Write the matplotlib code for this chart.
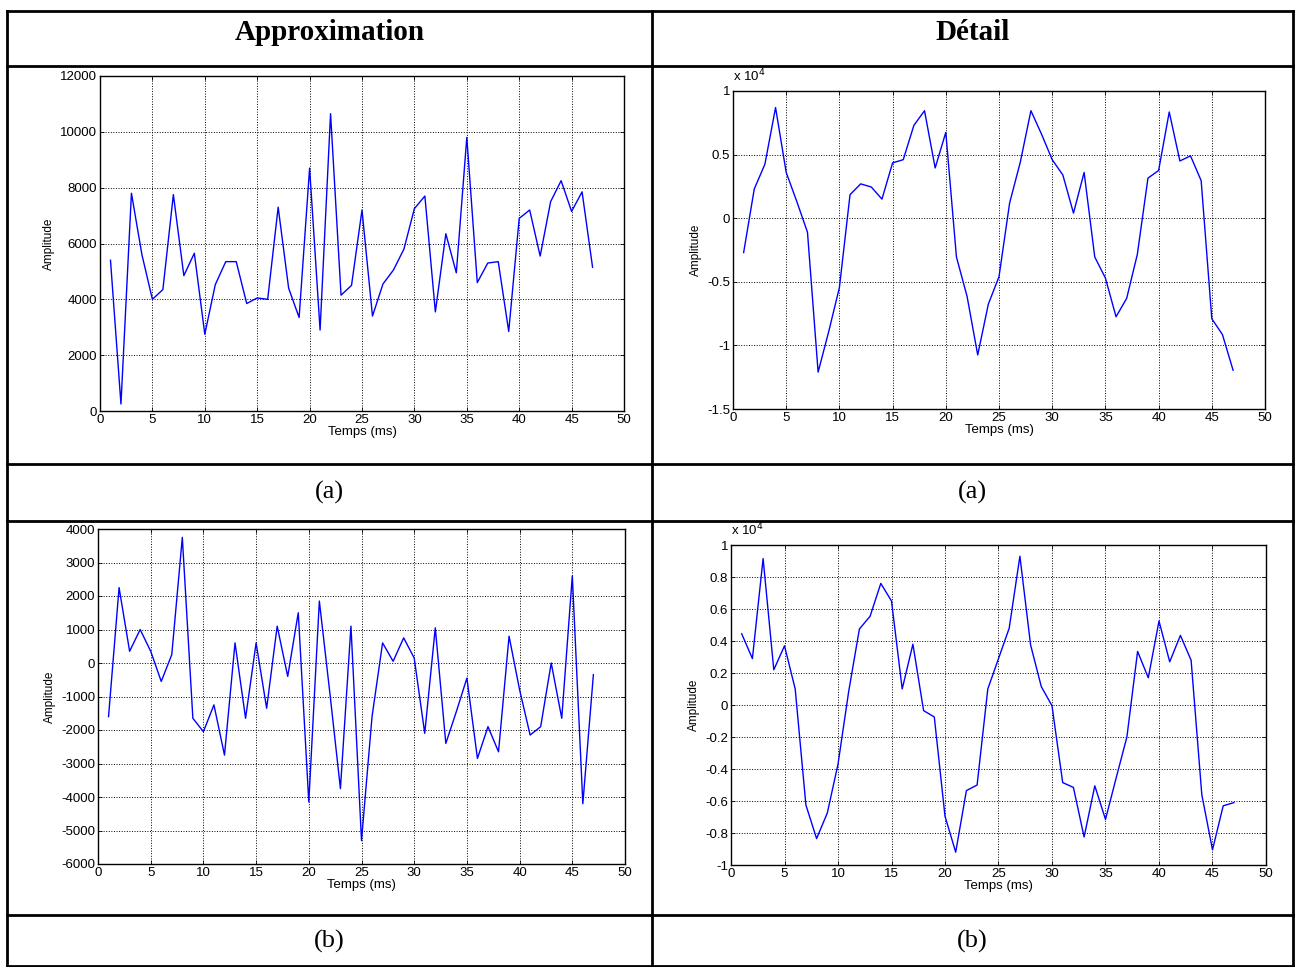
import numpy as np
import matplotlib
matplotlib.use('Agg')
import matplotlib.pyplot as plt
from matplotlib.lines import Line2D
from matplotlib.ticker import FuncFormatter

plt.rcParams['axes.unicode_minus'] = False
plt.rcParams['font.family'] = ['Liberation Sans', 'DejaVu Sans']

W, H = 1295, 967

# time axis (ms)
t = np.arange(1, 48)

# approximation (a)
approx_a = [5400, 250, 7800, 5600, 4000, 4350, 7750, 4850, 5650, 2750,
            4525, 5350, 5350, 3850, 4050, 4000, 7300, 4400, 3350, 8700,
            2900, 10650, 4150, 4500, 7200, 3400, 4550, 5050, 5800, 7250,
            7700, 3550, 6350, 4950, 9800, 4600, 5300, 5350, 2850, 6900,
            7200, 5550, 7500, 8250, 7150, 7850, 5150]

# detail (a)
detail_a = [-2700, 2300, 4250, 8700, 3600, 1300, -1100, -12100, -8900, -5450,
            1850, 2700, 2450, 1500, 4350, 4600, 7300, 8450, 3950, 6750,
            -3050, -6150, -10750, -6750, -4600, 1200, 4400, 8450, 6600, 4600,
            3400, 400, 3600, -3050, -4700, -7750, -6300, -2850, 3150, 3750,
            8350, 4500, 4900, 2950, -7900, -9150, -11950]

# approximation (b)
approx_b = [-1600, 2250, 350, 1000, 350, -550, 250, 3750, -1650, -2050,
            -1250, -2750, 600, -1650, 600, -1350, 1100, -400, 1500, -4150,
            1850, -900, -3750, 1100, -5300, -1600, 600, 50, 750, 150,
            -2100, 1050, -2400, -1450, -450, -2850, -1900, -2650, 800, -800,
            -2150, -1900, 0, -1650, 2600, -4200, -350]

# detail (b)
detail_b = [4450, 2900, 9150, 2200, 3700, 1000, -6250, -8350, -6750, -3700,
            850, 4750, 5550, 7600, 6500, 1000, 3800, -350, -750, -6950,
            -9200, -5350, -5000, 1000, 2900, 4800, 9300, 3750, 1150, -50,
            -4850, -5150, -8250, -5050, -7150, -4550, -2000, 3350, 1700, 5250,
            2700, 4350, 2800, -5600, -9050, -6300, -6100]

col_titles = ['Approximation', 'Détail']
row_labels = ['(a)', '(b)']


def rect(l, t_, r, b):
    # pixel box -> figure fraction [left, bottom, width, height]
    return [l / W, 1 - b / H, (r - l) / W, (b - t_) / H]


fmt = FuncFormatter(lambda v, p: '%g' % (round(v, 6) + 0.0))


def style(ax, ylim, yticks):
    ax.set_xlim(0, 50)
    ax.set_xticks(np.arange(0, 51, 5))
    ax.set_ylim(*ylim)
    ax.set_yticks(yticks)
    ax.yaxis.set_major_formatter(fmt)
    ax.grid(True, color='black', linestyle=':', linewidth=0.7)
    ax.tick_params(direction='in', top=True, right=True, labelsize=9.5,
                   length=3, width=0.6, pad=2)
    for s in ax.spines.values():
        s.set_linewidth(1.0)
    ax.set_xlabel('Temps (ms)', fontsize=9.5, labelpad=0)
    ax.set_ylabel('Amplitude', fontsize=8.5, labelpad=4)


fig = plt.figure(figsize=(W / 100, H / 100), dpi=100)

ax1 = fig.add_axes(rect(100, 76, 624, 411))
ax1.plot(t, approx_a, color='blue', linewidth=1.0)
style(ax1, (0, 12000), np.arange(0, 12001, 2000))

ax2 = fig.add_axes(rect(733, 91, 1265, 409))
ax2.plot(t, np.array(detail_a) / 1e4, color='blue', linewidth=1.0)
style(ax2, (-1.5, 1), np.arange(-1.5, 1.01, 0.5))
ax2.text(0, 1.02, 'x 10$^4$', transform=ax2.transAxes, fontsize=9.5,
         ha='left', va='bottom')

ax3 = fig.add_axes(rect(98, 529, 625, 864))
ax3.plot(t, approx_b, color='blue', linewidth=1.0)
style(ax3, (-6000, 4000), np.arange(-6000, 4001, 1000))

ax4 = fig.add_axes(rect(731, 545, 1266, 865))
ax4.plot(t, np.array(detail_b) / 1e4, color='blue', linewidth=1.0)
style(ax4, (-1, 1), np.arange(-1, 1.01, 0.2))
ax4.text(0, 1.02, 'x 10$^4$', transform=ax4.transAxes, fontsize=9.5,
         ha='left', va='bottom')

# table frame
lw = 2.0
x_left, x_mid, x_right = 7, 652, 1293
rows_y = [11, 66, 464, 521, 915, 966]
for y in rows_y:
    fig.add_artist(Line2D([x_left / W, x_right / W], [1 - y / H, 1 - y / H],
                          color='black', linewidth=lw))
for x in [x_left, x_mid, x_right]:
    fig.add_artist(Line2D([x / W, x / W], [1 - rows_y[0] / H, 1 - rows_y[-1] / H],
                          color='black', linewidth=lw))

# column titles and row labels
for i, title in enumerate(col_titles):
    xc = ((x_left + x_mid) / 2 if i == 0 else (x_mid + x_right) / 2) / W
    fig.text(xc, 1 - 32 / H, title, ha='center', va='center', fontsize=21,
             fontweight='bold', family='Liberation Serif')
    for j, lab in enumerate(row_labels):
        yc = (492 if j == 0 else 941) / H
        fig.text(xc, 1 - yc, lab, ha='center', va='center', fontsize=19,
                 family='Liberation Serif')

fig.savefig('out.png', dpi=100)
